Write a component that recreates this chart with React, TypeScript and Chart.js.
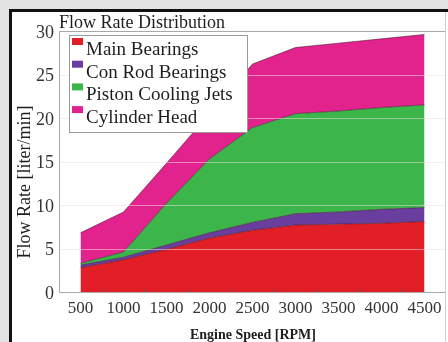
import React, { useEffect, useRef } from "react";
import { Chart, registerables } from "chart.js";

Chart.register(...registerables);

const rpmLabels = ["500", "1000", "1500", "2000", "2500", "3000", "3500", "4000", "4500"];
const mainBearings = [2.8, 3.7, 4.9, 6.2, 7.1, 7.7, 7.8, 7.9, 8.1];
const conRodBearings = [0.3, 0.3, 0.5, 0.6, 0.9, 1.3, 1.4, 1.6, 1.6];
const pistonCoolingJets = [0.2, 0.6, 4.8, 8.5, 10.9, 11.5, 11.6, 11.7, 11.8];
const cylinderHead = [3.5, 4.6, 4.6, 5.2, 7.3, 7.6, 7.8, 7.9, 8.1];
const seriesNames = ["Main Bearings", "Con Rod Bearings", "Piston Cooling Jets", "Cylinder Head"];
const seriesColors = ["#e21e26", "#6a3e9e", "#3cb54b", "#e2228d"];
const yTicks = [0, 5, 10, 15, 20, 25, 30];
const chartTitle = "Flow Rate Distribution";
const xTitle = "Engine Speed [RPM]";
const yTitle = "Flow Rate [liter/min]";

const SERIF = "'Liberation Serif', 'Times New Roman', serif";

const decor = {
  id: "decor",
  beforeDraw(chart: any) {
    const ctx = chart.ctx;
    ctx.save();
    ctx.fillStyle = "#e3e3e3";
    ctx.fillRect(0, 0, chart.width, chart.height);
    ctx.fillStyle = "#ffffff";
    ctx.fillRect(12, 12, chart.width - 12, chart.height - 12);
    ctx.fillStyle = "#111111";
    ctx.fillRect(9, 9, chart.width - 9, 3);
    ctx.fillRect(9, 9, 3, chart.height - 9);
    ctx.restore();
  },
  afterDatasetsDraw(chart: any) {
    const ctx = chart.ctx;
    const a = chart.chartArea;
    const y = chart.scales.y;
    const x = chart.scales.x;
    ctx.save();
    ctx.strokeStyle = "rgba(235,220,220,0.55)";
    ctx.lineWidth = 1;
    yTicks.forEach((v) => {
      if (v === 0 || v === 30) return;
      const py = Math.round(y.getPixelForValue(v)) + 0.5;
      ctx.beginPath();
      ctx.moveTo(a.left, py);
      ctx.lineTo(a.right, py);
      ctx.stroke();
    });
    const L = Math.round(a.left) + 0.5;
    const T = Math.round(a.top) + 0.5;
    const B = Math.round(a.bottom) + 0.5;
    const R = Math.round(a.right) - 0.5;
    ctx.strokeStyle = "#a8a8a8";
    ctx.beginPath();
    ctx.moveTo(R, T);
    ctx.lineTo(L, T);
    ctx.lineTo(L, B);
    ctx.lineTo(R, B);
    ctx.stroke();
    ctx.strokeStyle = "#d0d0d0";
    ctx.beginPath();
    ctx.moveTo(R, 12);
    ctx.lineTo(R, chart.height);
    ctx.stroke();
    ctx.strokeStyle = "#555";
    for (let i = 0; i < rpmLabels.length - 1; i++) {
      const px = Math.round((x.getPixelForTick(i) + x.getPixelForTick(i + 1)) / 2) + 0.5;
      ctx.beginPath();
      ctx.moveTo(px, a.bottom);
      ctx.lineTo(px, a.bottom - 3);
      ctx.stroke();
    }
    ctx.restore();
  },
  afterDraw(chart: any) {
    const ctx = chart.ctx;
    const a = chart.chartArea;
    ctx.save();
    ctx.fillStyle = "#1e1e1e";
    ctx.font = `18px ${SERIF}`;
    ctx.textAlign = "left";
    ctx.textBaseline = "alphabetic";
    ctx.fillText(chartTitle, a.left, 28);
    ctx.font = `bold 14px ${SERIF}`;
    ctx.textAlign = "center";
    ctx.fillText(xTitle, 253, 339);
    ctx.save();
    ctx.translate(25, 182);
    ctx.rotate(-Math.PI / 2);
    ctx.font = `18px ${SERIF}`;
    ctx.textAlign = "center";
    ctx.textBaseline = "middle";
    ctx.fillText(yTitle, 0, 0);
    ctx.restore();
    ctx.fillStyle = "#ffffff";
    ctx.fillRect(69, 35, 178, 97);
    ctx.strokeStyle = "#9a9a9a";
    ctx.lineWidth = 1;
    ctx.strokeRect(69.5, 35.5, 178, 97);
    ctx.font = `19px ${SERIF}`;
    ctx.textAlign = "left";
    ctx.textBaseline = "alphabetic";
    seriesNames.forEach((name, i) => {
      const base = 55 + i * 22.7;
      ctx.fillStyle = seriesColors[i];
      ctx.fillRect(72, base - 17, 11, 7);
      ctx.fillStyle = "#1e1e1e";
      ctx.fillText(name, 86, base);
    });
    ctx.restore();
  },
};

export default function App() {
  const ref = useRef<HTMLCanvasElement | null>(null);
  useEffect(() => {
    if (!ref.current) return;
    const series = [mainBearings, conRodBearings, pistonCoolingJets, cylinderHead];
    const chart = new Chart(ref.current, {
      type: "line",
      data: {
        labels: rpmLabels,
        datasets: series.map((d, i) => ({
          label: seriesNames[i],
          data: d,
          backgroundColor: seriesColors[i],
          borderColor: "rgba(60,20,40,0.55)",
          borderWidth: 1,
          pointRadius: 0,
          tension: 0,
          fill: i === 0 ? "origin" : "-1",
        })),
      },
      options: {
        animation: false,
        responsive: false,
        devicePixelRatio: 1,
        layout: { padding: { top: 31, right: 2, left: 0, bottom: 0 } },
        plugins: { legend: { display: false }, title: { display: false }, tooltip: { enabled: false } },
        scales: {
          x: {
            type: "category",
            offset: true,
            grid: { display: false, drawTicks: false },
            border: { display: false },
            ticks: { color: "#333", font: { family: SERIF, size: 17 }, padding: 6, maxRotation: 0, autoSkip: false },
            afterFit: (s: any) => { s.height = 50; },
          },
          y: {
            stacked: true,
            min: 0,
            max: 30,
            grid: { display: false, drawTicks: false },
            border: { display: false },
            ticks: { stepSize: 5, color: "#333", font: { family: SERIF, size: 18 }, padding: 5, labelOffset: 2 },
            afterFit: (s: any) => { s.width = 59; },
          },
        },
      } as any,
      plugins: [decor],
    });
    return () => chart.destroy();
  }, []);
  return (
    <div style={{ position: "absolute", left: 0, top: 0, width: 448, height: 342 }}>
      <canvas ref={ref} width={448} height={342} style={{ display: "block" }} />
    </div>
  );
}
